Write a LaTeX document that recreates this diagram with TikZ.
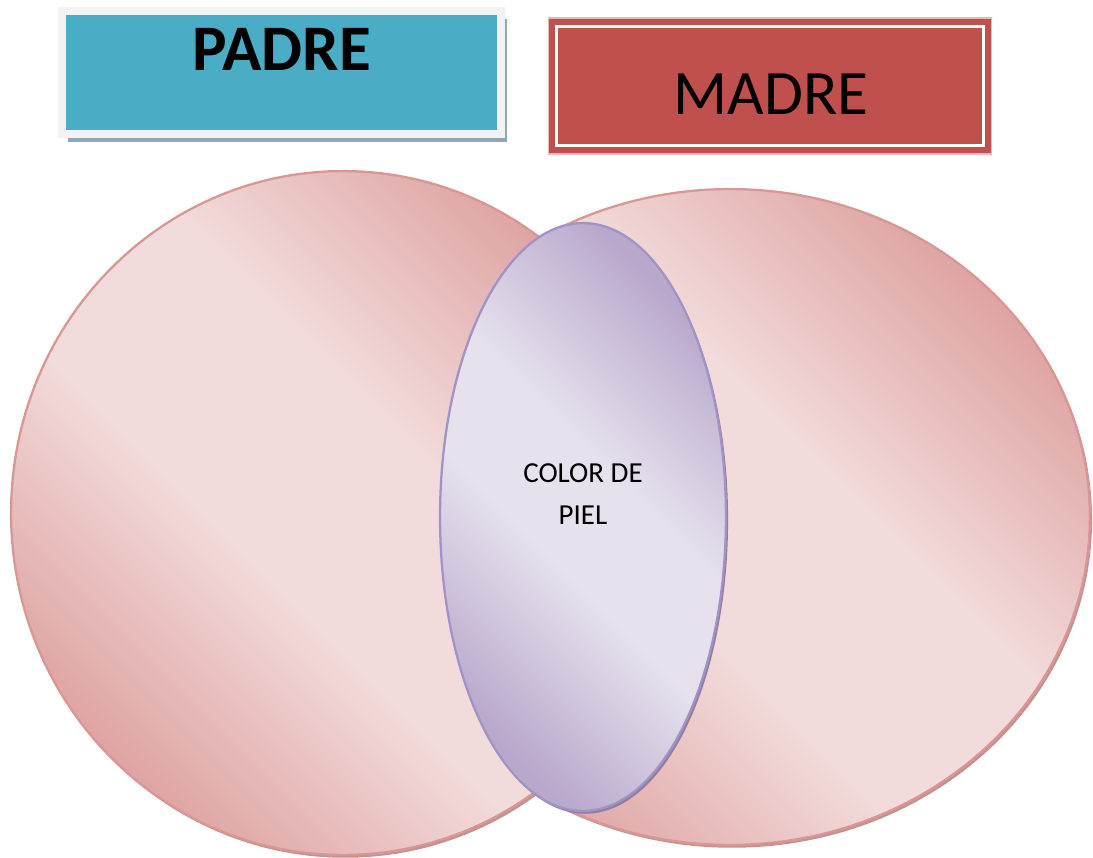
\documentclass[tikz,border=0pt]{standalone}
\usepackage{fontspec}
\setmainfont{Carlito}
\usepackage{xcolor}
\usetikzlibrary{shapes.geometric, shadows, positioning, calc}
\definecolor{padreteal}{HTML}{4BACC6}
\definecolor{padreframe}{HTML}{F2F2F2}
\definecolor{padreshadow}{HTML}{8FA9B4}
\definecolor{madrered}{HTML}{C0504D}
\definecolor{madreedge}{HTML}{E6B9B8}
\definecolor{pinklight}{HTML}{F2DCDB}
\definecolor{pinkdark}{HTML}{DEA4A3}
\definecolor{pinkedge}{HTML}{D99694}
\definecolor{pinkshadow}{HTML}{C49190}
\definecolor{lilaclight}{HTML}{E6E1ED}
\definecolor{lilacdark}{HTML}{B8A8CC}
\definecolor{lilacedge}{HTML}{A193C6}
\definecolor{lilacshadow}{HTML}{8E7F9F}
\pgfdeclareverticalshading{pinkfade}{100bp}{color(0bp)=(pinkdark); color(25bp)=(pinkdark);
  color(43bp)=(pinklight); color(57bp)=(pinklight); color(75bp)=(pinkdark); color(100bp)=(pinkdark)}
\pgfdeclareverticalshading{lilacfade}{100bp}{color(0bp)=(lilacdark); color(25bp)=(lilacdark);
  color(44bp)=(lilaclight); color(56bp)=(lilaclight); color(75bp)=(lilacdark); color(100bp)=(lilacdark)}
\tikzstyle{setoval} = [ellipse, inner sep=0pt, draw=pinkedge, line width=1.3pt,
  shading=pinkfade, shading angle=-45,
  drop shadow={shadow xshift=1.2pt, shadow yshift=-1.6pt, fill=pinkshadow, opacity=1}]
\tikzstyle{shareoval} = [ellipse, inner sep=0pt, draw=lilacedge, line width=1.3pt,
  shading=lilacfade, shading angle=-45,
  drop shadow={shadow xshift=1.2pt, shadow yshift=-1.6pt, fill=lilacshadow, opacity=1}]
\tikzstyle{padrebox} = [rectangle, minimum width=8.78cm, minimum height=2.46cm, inner sep=0pt,
  draw=padreframe, fill=padreteal, line width=4.5pt,
  drop shadow={shadow xshift=3.5pt, shadow yshift=-4.5pt, fill=padreshadow, opacity=1}]
\tikzstyle{madrebox} = [rectangle, minimum width=8.88cm, minimum height=2.72cm, inner sep=0pt,
  draw=madreedge, fill=madrered, line width=0.6pt]
\tikzstyle{madreline} = [draw=white, line width=1.3pt]
\tikzstyle{titletext} = [inner sep=0pt, text=black]

\begin{document}
\begin{tikzpicture}[x=0.02cm, y=-0.02cm]
  \useasboundingbox (0,0) rectangle (1093,858);

  % parent boxes
  \node (padre) [padrebox] at (281.5,72.5) {};
  \node (padretxt) [titletext, below=0.42cm of padre.north, font=\fontsize{37}{40}\selectfont\bfseries] {PADRE};
  \node (madre) [madrebox] at (770,86) {};
  \draw[madreline] ([shift={(9,9)}]madre.north west) rectangle ([shift={(-9,-9)}]madre.south east);
  \node (madretxt) [titletext, font=\fontsize{36}{40}\selectfont] at (771,94.5) {MADRE};

  % venn sets
  \node (madreset) [setoval, minimum width=14.4cm, minimum height=13.12cm] at (730,517) {};
  \node (padreset) [setoval, minimum width=13.28cm, minimum height=13.68cm] at (343,513) {};
  \node (comun) [shareoval, minimum width=5.72cm, minimum height=11.76cm] at (583,517) {};
  \node (comuntxt) [align=center, inner sep=0pt, font=\fontsize{16.5}{24}\selectfont] at (583,494) {COLOR DE\\PIEL};
\end{tikzpicture}
\end{document}
